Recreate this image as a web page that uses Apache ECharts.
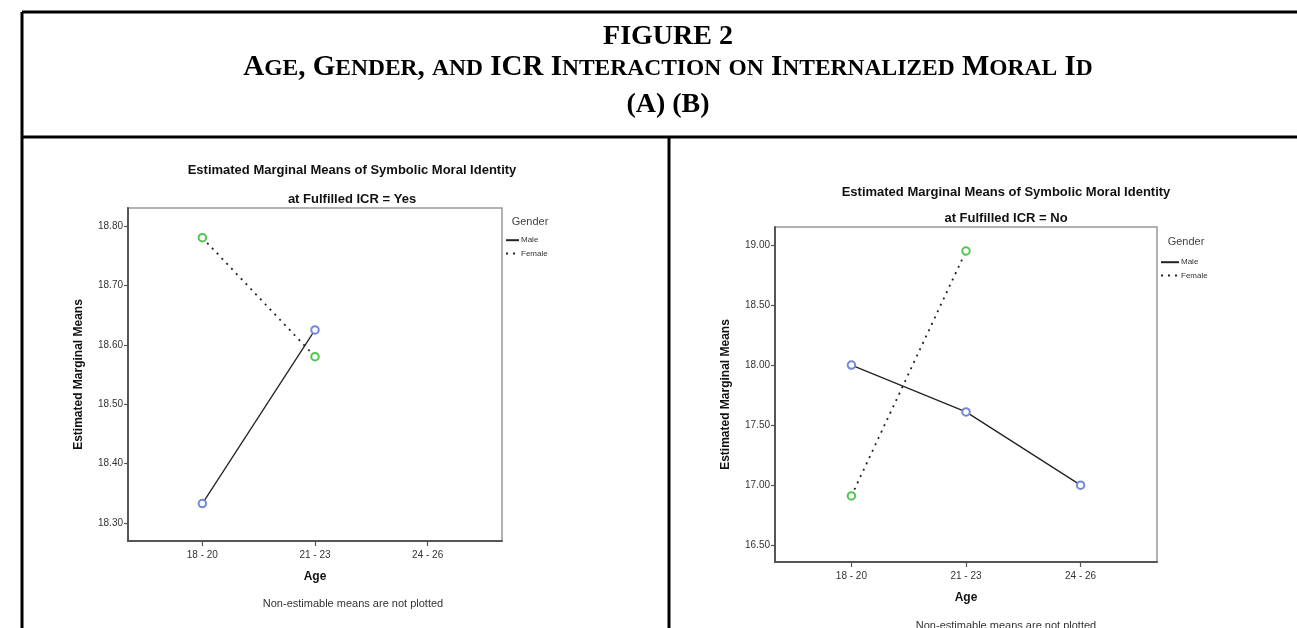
<!DOCTYPE html>
<html><head><meta charset="utf-8">
<script src="https://cdn.jsdelivr.net/npm/echarts@6/dist/echarts.min.js"></script>
<style>html,body{margin:0;padding:0;background:#fff;}#c{width:1297px;height:628px;}</style>
</head><body><div id="c"></div>
<script>
// ---- data ----
const ageCategories = ['18 - 20', '21 - 23', '24 - 26'];
const genders = ['Male', 'Female'];
// Panel A : Fulfilled ICR = Yes (null = non-estimable)
const maleYes = [18.333, 18.625, null];
const femaleYes = [18.78, 18.58, null];
const yTicksYes = [18.30, 18.40, 18.50, 18.60, 18.70, 18.80];
// Panel B : Fulfilled ICR = No
const maleNo = [18.00, 17.61, 17.00];
const femaleNo = [16.91, 18.95, null];
const yTicksNo = [16.50, 17.00, 17.50, 18.00, 18.50, 19.00];
// texts
const figureLabel = 'FIGURE 2';
const figureTitle = 'Age, Gender, and ICR Interaction on Internalized Moral Id';
const panelLabels = '(A) (B)';
const chartTitle = 'Estimated Marginal Means of Symbolic Moral Identity';
const subtitleYes = 'at Fulfilled ICR = Yes';
const subtitleNo = 'at Fulfilled ICR = No';
const xName = 'Age';
const yName = 'Estimated Marginal Means';
const legendTitle = 'Gender';
const note = 'Non-estimable means are not plotted';

// ---- helpers ----
const SANS = 'Liberation Sans, Arial, sans-serif';
const SERIF = 'Liberation Serif, Times New Roman, serif';
const catIdx = ageCategories.map((c, i) => i);
function toPairs(values) {
  const out = [];
  values.forEach((v, i) => { if (v !== null && v !== undefined) out.push([i, v]); });
  return out;
}
function smallCaps(str) {
  let s = '';
  for (const ch of str) {
    if (ch >= 'a' && ch <= 'z') s += '{s|' + ch.toUpperCase() + '}';
    else s += '{b|' + ch + '}';
  }
  return s;
}
function lineSeries(name, values, gi, color, dotted) {
  return {
    type: 'line', name, xAxisIndex: gi, yAxisIndex: gi, data: toPairs(values),
    symbol: 'emptyCircle', symbolSize: 7.5, showSymbol: true,
    lineStyle: { color: '#222', width: dotted ? 1.8 : 1.3, type: dotted ? [2, 5] : 'solid' },
    itemStyle: { color: color, borderColor: color, borderWidth: 1.3 },
    emphasis: { disabled: true }, animation: false, z: dotted ? 3 : 2
  };
}
function xAxis(gi, min, max) {
  return {
    type: 'value', gridIndex: gi, min, max,
    axisLine: { show: true, onZero: false, lineStyle: { color: '#555', width: 2 } },
    axisTick: { show: true, customValues: catIdx, length: 5, lineStyle: { color: '#555', width: 1.2 } },
    axisLabel: { show: true, customValues: catIdx, margin: 9, fontSize: 10, color: '#333', fontFamily: SANS,
      formatter: v => ageCategories[Math.round(v)] },
    splitLine: { show: false },
    name: xName, nameLocation: 'middle', nameGap: 30,
    nameTextStyle: { fontSize: 12, fontWeight: 'bold', color: '#111', fontFamily: SANS }
  };
}
function yAxis(gi, min, max, ticks) {
  return {
    type: 'value', gridIndex: gi, min, max,
    axisLine: { show: true, onZero: false, lineStyle: { color: '#555', width: 2 } },
    axisTick: { show: true, customValues: ticks, length: 4, lineStyle: { color: '#555', width: 1.2 } },
    axisLabel: { show: true, customValues: ticks, margin: 5, fontSize: 10, color: '#333', fontFamily: SANS,
      formatter: v => Number(v).toFixed(2) },
    splitLine: { show: false },
    name: yName, nameLocation: 'middle', nameGap: 43, nameRotate: 90,
    nameTextStyle: { fontSize: 12, fontWeight: 'bold', color: '#111', fontFamily: SANS }
  };
}
function txt(text, x, y, font, extra) {
  return { type: 'text', x, y, silent: true,
    style: Object.assign({ text, font, fill: '#111', align: 'center', verticalAlign: 'middle' }, extra || {}) };
}
function line(x1, y1, x2, y2) {
  return { type: 'line', silent: true, shape: { x1, y1, x2, y2 }, style: { stroke: '#000', lineWidth: 3 } };
}
function legend(left, top, w) {
  return {
    orient: 'vertical', left, top, itemWidth: w, itemHeight: 8, itemGap: 5, padding: 0,
    selectedMode: false, data: genders, itemStyle: { opacity: 0 },
    textStyle: { fontSize: 8, color: '#333', fontFamily: SANS, padding: [0, 0, 0, -3] }
  };
}

const chart = echarts.init(document.getElementById('c'), null, { renderer: 'canvas' });
chart.setOption({
  backgroundColor: '#fff',
  animation: false,
  grid: [
    { left: 128, top: 208, width: 374, height: 333, show: true, borderColor: '#999', borderWidth: 1.5, outerBoundsMode: 'none' },
    { left: 775, top: 227, width: 382, height: 335, show: true, borderColor: '#999', borderWidth: 1.5, outerBoundsMode: 'none' }
  ],
  xAxis: [xAxis(0, -0.66, 2.66), xAxis(1, -0.667, 2.667)],
  yAxis: [yAxis(0, 18.27, 18.83, yTicksYes), yAxis(1, 16.36, 19.15, yTicksNo)],
  legend: [legend(505, 236, 13), legend(1160, 258, 18)],
  series: [
    lineSeries(genders[0], maleYes, 0, '#7088da', false),
    lineSeries(genders[1], femaleYes, 0, '#4fc74f', true),
    lineSeries(genders[0], maleNo, 1, '#7088da', false),
    lineSeries(genders[1], femaleNo, 1, '#4fc74f', true)
  ],
  graphic: [
    line(22, 12, 1297, 12),
    line(22, 12, 22, 628),
    line(22, 137, 1297, 137),
    line(669, 137, 669, 628),
    txt(figureLabel, 668, 37, 'bold 28px ' + SERIF, { fill: '#000' }),
    { type: 'text', x: 668, y: 67, silent: true,
      style: { text: smallCaps(figureTitle), align: 'center', verticalAlign: 'middle', fill: '#000',
        rich: {
          b: { fontFamily: SERIF, fontWeight: 'bold', fontSize: 29, lineHeight: 30, verticalAlign: 'bottom', fill: '#000' },
          s: { fontFamily: SERIF, fontWeight: 'bold', fontSize: 23.5, lineHeight: 30, verticalAlign: 'bottom', fill: '#000', padding: [0, 0, 1, 0] }
        } } },
    txt(panelLabels, 668, 105, 'bold 28px ' + SERIF, { fill: '#000' }),
    txt(chartTitle, 352, 170, 'bold 13px ' + SANS),
    txt(subtitleYes, 352, 199, 'bold 13px ' + SANS),
    txt(chartTitle, 1006, 192, 'bold 13px ' + SANS),
    txt(subtitleNo, 1006, 218, 'bold 13px ' + SANS),
    txt(legendTitle, 530, 222, '11px ' + SANS, { fill: '#444' }),
    txt(legendTitle, 1186, 242, '11px ' + SANS, { fill: '#444' }),
    txt(note, 353, 604, '11px ' + SANS, { fill: '#333' }),
    txt(note, 1006, 626, '11px ' + SANS, { fill: '#333' })
  ]
});
</script></body></html>
